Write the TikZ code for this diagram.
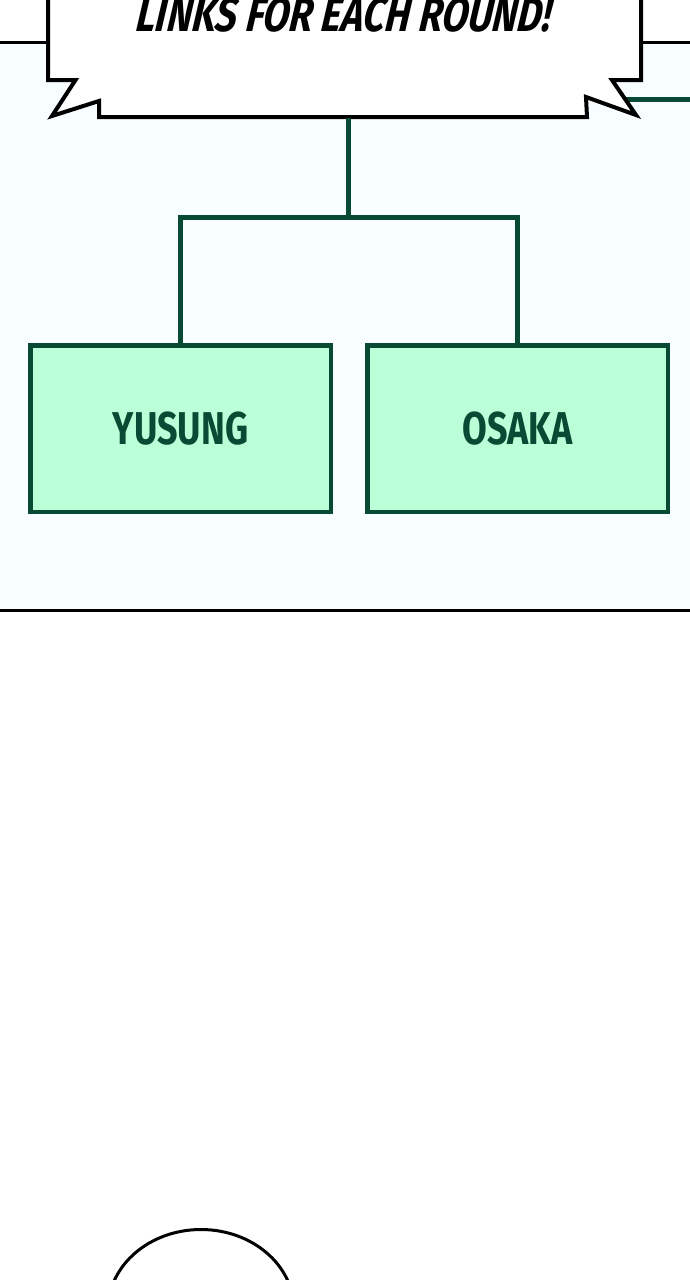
\documentclass[tikz,border=0pt]{standalone}
\usepackage{fontspec}
\newfontfamily\boxfont[FakeStretch=0.78]{Fira Sans}
\newfontfamily\shoutfont[FakeStretch=0.8,FakeSlant=0.12]{Fira Sans}
\usetikzlibrary{positioning}
\tikzset{
	panelbg/.style={fill=panelBg, draw=none},
	border/.style={black, line width=3pt},
	bubble/.style={fill=white, draw=black, line width=4pt, line join=miter},
	link/.style={treeGreen, line width=5pt},
	team/.style={
		draw=treeGreen, fill=teamFill, line width=4.5pt,
		minimum width=300.5pt, minimum height=166.5pt, inner sep=0pt,
		text=treeGreen, font=\boxfont\bfseries\fontsize{46}{46}\selectfont
	},
	shout/.style={font=\shoutfont\bfseries\itshape\fontsize{48}{48}\selectfont},
}

\begin{document}
\begin{tikzpicture}[x=1pt, y=-1pt, line cap=butt]
		
		% ---- Colors ----
		\definecolor{panelBg}{RGB}{248,254,255}
		\definecolor{treeGreen}{RGB}{8,74,52}
		\definecolor{teamFill}{RGB}{187,255,217}
		
		% ---- Page ----
		\fill[white] (0,0) rectangle (690,1280);
		\useasboundingbox (0,0) rectangle (690,1280);
		
		% ---- Panel ----
		\fill[panelbg] (0,42) rectangle (690,609);
		\draw[border] (0,42) -- (690,42);
		\draw[border] (0,610.5) -- (690,610.5);
		
		% ---- Branch running off to the right (behind bubble) ----
		\draw[link] (600,99.5) -- (690,99.5);
		
		% ---- Speech bubble ----
		\draw[bubble] (48,-10) -- (48,80) -- (75.5,80) -- (52,116) -- (99,101)
			-- (99,117) -- (587,117) -- (586,97) -- (636,115) -- (612,80)
			-- (641,80) -- (641,-10);
		\node[shout, anchor=base] (title) at (343,31) {LINKS FOR EACH ROUND!};
		\coordinate (bubbleBot) at (348,118);
		
		% ---- Bracket ----
		\node[team] (yusung) at (180.5,428.5) {YUSUNG};
		\node[team, right=32pt of yusung] (osaka) {OSAKA};
		\coordinate (split) at (348,217);
		
		\draw[link] (bubbleBot) -- (split);
		\draw[link] (yusung.north) |- (split);
		\draw[link] (osaka.north) |- (split);
		
		% ---- Next panel ----
		\draw[black, line width=3pt] (201,1309.5) ellipse [x radius=93, y radius=80];
		
	\end{tikzpicture}
\end{document}
